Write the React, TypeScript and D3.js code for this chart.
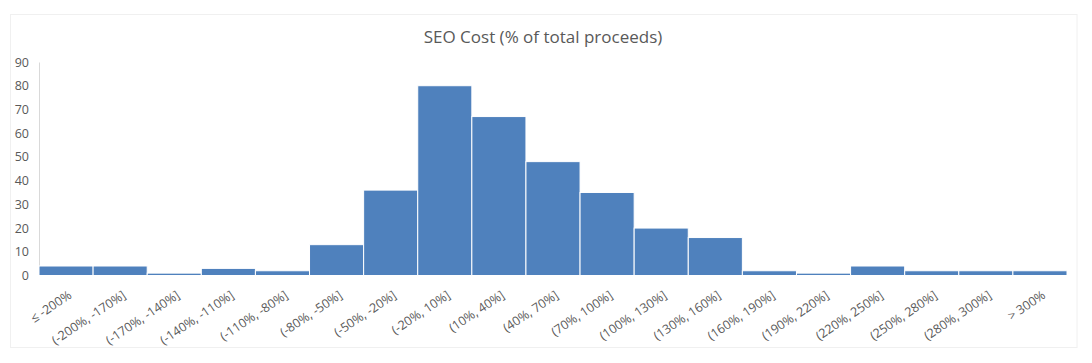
import { useEffect, useRef } from "react";
import * as d3 from "d3";

const title = "SEO Cost (% of total proceeds)";

const bins = [
  "≤ -200%",
  "(-200%, -170%]",
  "(-170%, -140%]",
  "(-140%, -110%]",
  "(-110%, -80%]",
  "(-80%, -50%]",
  "(-50%, -20%]",
  "(-20%, 10%]",
  "(10%, 40%]",
  "(40%, 70%]",
  "(70%, 100%]",
  "(100%, 130%]",
  "(130%, 160%]",
  "(160%, 190%]",
  "(190%, 220%]",
  "(220%, 250%]",
  "(250%, 280%]",
  "(280%, 300%]",
  "> 300%",
];

const counts = [4, 4, 1, 3, 2, 13, 36, 80, 67, 48, 35, 20, 16, 2, 1, 4, 2, 2, 2];

const yTicks = [0, 10, 20, 30, 40, 50, 60, 70, 80, 90];

export default function App() {
  const ref = useRef<SVGSVGElement>(null);

  useEffect(() => {
    const W = 1092, H = 363;
    const left = 39, right = 1067, top = 62, bottom = 275.5;
    const font = "'Open Sans', 'Liberation Sans', sans-serif";
    const grey = "#595959";

    const svg = d3.select(ref.current);
    svg.selectAll("*").remove();
    svg.attr("width", W).attr("height", H);

    // chart frame
    svg.append("rect")
      .attr("x", 10.5).attr("y", 14.5)
      .attr("width", 1066.5).attr("height", 333)
      .attr("fill", "#fff")
      .attr("stroke", "#f0f0f0");

    svg.append("text")
      .attr("x", 543).attr("y", 43)
      .attr("text-anchor", "middle")
      .attr("font-family", font)
      .attr("font-size", 17)
      .attr("fill", grey)
      .text(title);

    const x = d3.scaleBand().domain(bins).range([left, right]).padding(0);
    const y = d3.scaleLinear().domain([0, 90]).range([bottom, top]);

    // y axis
    const yAxis = svg.append("g")
      .attr("transform", `translate(${left},0)`)
      .call(d3.axisLeft(y).tickValues(yTicks).tickSize(0).tickPadding(10));
    yAxis.select(".domain").attr("stroke", "#d9d9d9");
    yAxis.selectAll("text")
      .attr("font-family", font)
      .attr("font-size", 12.5)
      .attr("fill", grey);

    // bars
    svg.append("g")
      .selectAll("rect")
      .data(counts)
      .join("rect")
      .attr("x", (_, i) => x(bins[i])!)
      .attr("y", (d) => y(d))
      .attr("width", x.bandwidth())
      .attr("height", (d) => bottom - y(d))
      .attr("fill", "#4F81BD")
      .attr("stroke", "#fff")
      .attr("stroke-width", 1);

    // x axis labels
    const xAxis = svg.append("g")
      .attr("transform", `translate(0,${bottom})`)
      .call(d3.axisBottom(x).tickSize(0).tickPadding(0));
    xAxis.select(".domain").remove();
    xAxis.selectAll("text")
      .attr("font-family", font)
      .attr("font-size", 12.5)
      .attr("fill", grey)
      .attr("text-anchor", "end")
      .attr("dy", "0.35em")
      .attr("transform", "translate(4,18) rotate(-34)");
  }, []);

  return (
    <div style={{ position: "absolute", left: 0, top: 0 }}>
      <svg ref={ref} />
    </div>
  );
}
